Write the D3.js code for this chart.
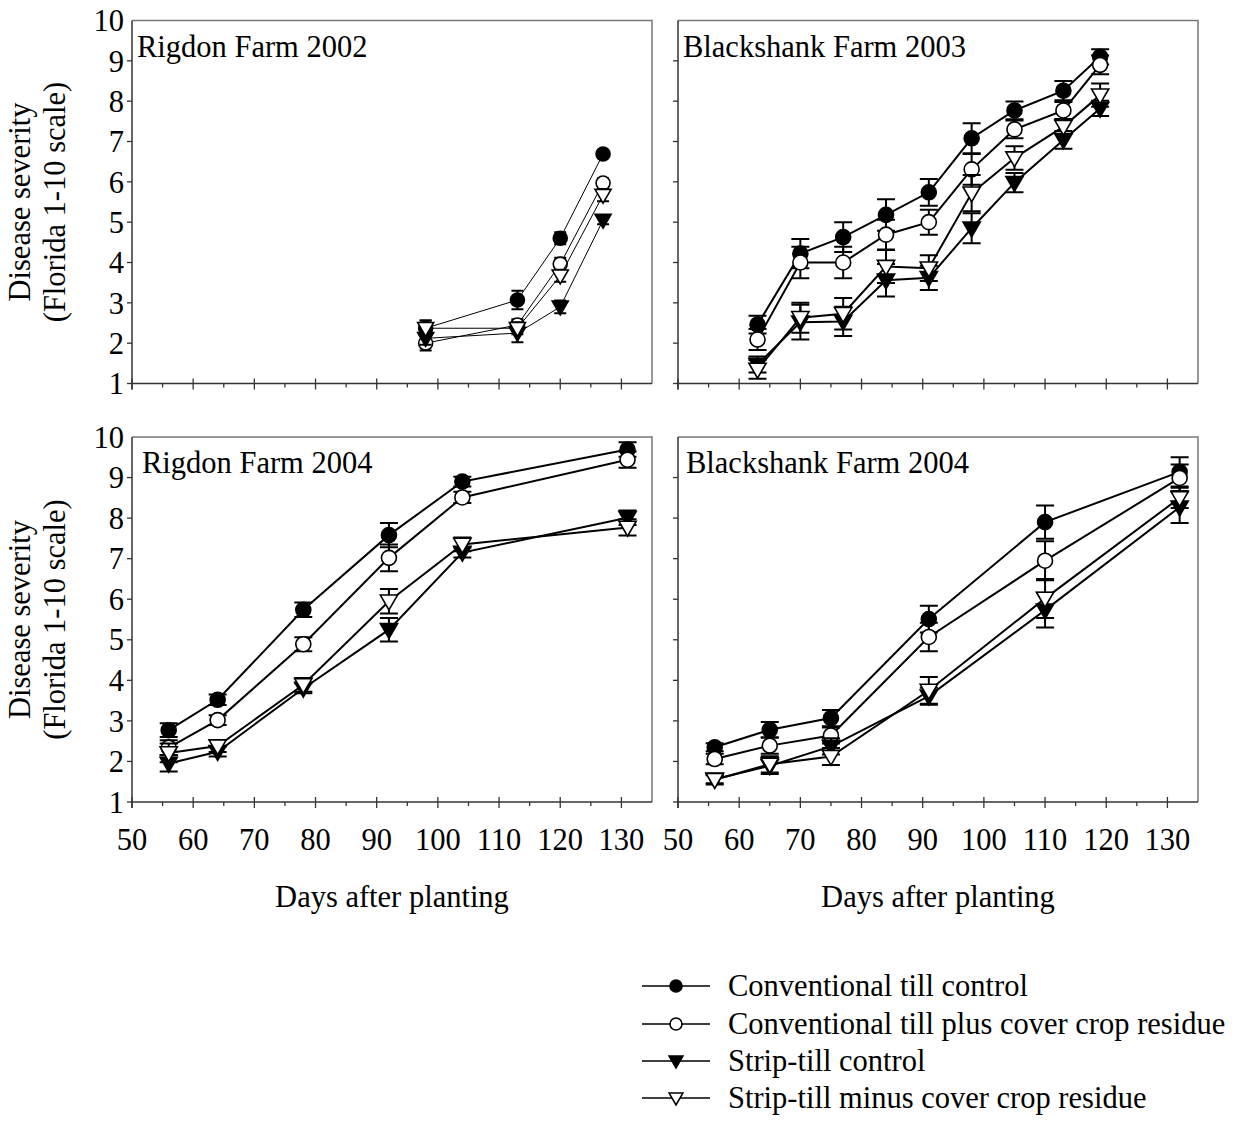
<!DOCTYPE html>
<html>
<head>
<meta charset="utf-8">
<script src="https://cdn.jsdelivr.net/npm/d3@7/dist/d3.min.js"></script>
<style>
  html, body { margin: 0; padding: 0; background: #fff; }
  svg { display: block; }
  text { font-family: "Liberation Serif", "Times New Roman", serif; fill: #000; }
</style>
</head>
<body>
<svg id="chart" width="1238" height="1121"></svg>
<script>
// Treatments (legend order)
const seriesNames = [
  "Conventional till control",
  "Conventional till plus cover crop residue",
  "Strip-till control",
  "Strip-till minus cover crop residue"
];
const seriesSymbols = ["circleFilled", "circleOpen", "triFilled", "triOpen"];

// Ticks
const xTicks = [50, 60, 70, 80, 90, 100, 110, 120, 130];
const yTicks = [1, 2, 3, 4, 5, 6, 7, 8, 9, 10];

// Rigdon Farm 2002
const rig02Days = [98, 113, 120, 127];
const rig02Mean = [
  [2.37, 3.07, 4.60, 6.69],
  [2.00, 2.45, 3.96, 5.97],
  [2.12, 2.25, 2.90, 5.05],
  [2.37, 2.37, 3.67, 5.67]
];
const rig02Err = [
  [0.19, 0.23, 0.15, 0.10],
  [0.18, 0.14, 0.16, 0.12],
  [0.16, 0.23, 0.16, 0.10],
  [0.19, 0.15, 0.15, 0.15]
];

// Blackshank Farm 2003
const bla03Days = [63, 70, 77, 84, 91, 98, 105, 113, 119];
const bla03Mean = [
  [2.46, 4.22, 4.63, 5.18, 5.74, 7.08, 7.77, 8.26, 9.10],
  [2.09, 4.00, 4.00, 4.69, 5.00, 6.31, 7.30, 7.77, 8.90],
  [1.47, 2.52, 2.54, 3.56, 3.62, 4.85, 5.98, 7.04, 7.82],
  [1.35, 2.63, 2.73, 3.90, 3.86, 5.72, 6.59, 7.37, 8.15]
];
const bla03Err = [
  [0.22, 0.36, 0.37, 0.39, 0.33, 0.37, 0.22, 0.24, 0.19],
  [0.26, 0.39, 0.39, 0.37, 0.31, 0.38, 0.22, 0.21, 0.23],
  [0.20, 0.43, 0.36, 0.40, 0.30, 0.37, 0.24, 0.22, 0.19],
  [0.23, 0.37, 0.39, 0.41, 0.32, 0.45, 0.29, 0.18, 0.29]
];

// Rigdon Farm 2004
const rig04Days = [56, 64, 78, 92, 104, 131];
const rig04Mean = [
  [2.77, 3.52, 5.74, 7.58, 8.90, 9.69],
  [2.34, 3.02, 4.89, 7.02, 8.51, 9.44],
  [1.95, 2.24, 3.80, 5.25, 7.15, 8.01],
  [2.21, 2.38, 3.89, 5.95, 7.35, 7.77]
];
const rig04Err = [
  [0.17, 0.13, 0.18, 0.30, 0.12, 0.18],
  [0.18, 0.12, 0.17, 0.33, 0.14, 0.20],
  [0.20, 0.12, 0.12, 0.29, 0.12, 0.18],
  [0.23, 0.15, 0.17, 0.30, 0.17, 0.20]
];

// Blackshank Farm 2004
const bla04Days = [56, 65, 75, 91, 110, 132];
const bla04Mean = [
  [2.35, 2.78, 3.07, 5.51, 7.90, 9.14],
  [2.06, 2.39, 2.64, 5.07, 6.95, 8.99],
  [1.56, 1.89, 2.37, 3.61, 5.73, 8.27],
  [1.55, 1.93, 2.12, 3.75, 6.02, 8.50]
];
const bla04Err = [
  [0.10, 0.19, 0.20, 0.33, 0.41, 0.36],
  [0.13, 0.20, 0.20, 0.35, 0.48, 0.33],
  [0.10, 0.20, 0.20, 0.21, 0.43, 0.39],
  [0.12, 0.20, 0.21, 0.33, 0.48, 0.25]
];

const panelTitles = ["Rigdon Farm 2002", "Blackshank Farm 2003", "Rigdon Farm 2004", "Blackshank Farm 2004"];
const yTitle = ["Disease severity", "(Florida 1-10 scale)"];
const xTitle = "Days after planting";

const panels = [
  { title: panelTitles[0], days: rig02Days, mean: rig02Mean, err: rig02Err,
    x0: 132, x1: 652, y0: 20.5, y1: 383.5, left: true, bottom: false, thin: true, tx: 5 },
  { title: panelTitles[1], days: bla03Days, mean: bla03Mean, err: bla03Err,
    x0: 678, x1: 1198, y0: 20.5, y1: 383.5, left: false, bottom: false, thin: false, tx: 5 },
  { title: panelTitles[2], days: rig04Days, mean: rig04Mean, err: rig04Err,
    x0: 132, x1: 652, y0: 437, y1: 802, left: true, bottom: true, thin: false, tx: 10 },
  { title: panelTitles[3], days: bla04Days, mean: bla04Mean, err: bla04Err,
    x0: 678, x1: 1198, y0: 437, y1: 802, left: false, bottom: true, thin: false, tx: 8 }
];

const svg = d3.select("#chart");
const FONT = 30.5;

// Marker drawing helper
function drawMarker(g, kind, x, y, s) {
  const filled = kind.endsWith("Filled");
  const fill = filled ? "#000" : "#fff";
  if (kind.startsWith("circle")) {
    g.append("circle").attr("cx", x).attr("cy", y).attr("r", s)
      .attr("fill", fill).attr("stroke", "#000").attr("stroke-width", 1.6);
  } else {
    const h = s * 1.1, w = s * 1.15;
    g.append("path")
      .attr("d", `M${x - w},${y - h * 0.75}L${x + w},${y - h * 0.75}L${x},${y + h * 1.05}Z`)
      .attr("fill", fill).attr("stroke", "#000").attr("stroke-width", 1.6)
      .attr("stroke-linejoin", "miter");
  }
}

panels.forEach(p => {
  const x = d3.scaleLinear().domain([50, 135]).range([p.x0, p.x1]);
  const y = d3.scaleLinear().domain([1, 10]).range([p.y1, p.y0]);
  const g = svg.append("g");

  // frame (top and right)
  g.append("path")
    .attr("d", `M${p.x0},${p.y0}H${p.x1}V${p.y1}`)
    .attr("fill", "none").attr("stroke", "#777").attr("stroke-width", 1.5);

  // x axis: major ticks cross the axis line, minor ticks point down
  const xa = g.append("g").attr("transform", `translate(0,${p.y1})`);
  xa.append("line").attr("x1", p.x0 - 1).attr("x2", p.x1).attr("y1", 0).attr("y2", 0)
    .attr("stroke", "#333").attr("stroke-width", 1.5);
  xa.selectAll(".maj").data(xTicks).join("line")
    .attr("x1", d => x(d)).attr("x2", d => x(d)).attr("y1", -5).attr("y2", 6)
    .attr("stroke", "#333").attr("stroke-width", 1.3);
  xa.selectAll(".min").data(d3.range(55, 135, 10)).join("line")
    .attr("x1", d => x(d)).attr("x2", d => x(d)).attr("y1", 0).attr("y2", 4)
    .attr("stroke", "#333").attr("stroke-width", 1.3);
  if (p.bottom) {
    xa.selectAll(".lab").data(xTicks).join("text")
      .attr("x", d => x(d)).attr("y", 48)
      .attr("text-anchor", "middle").attr("font-size", FONT)
      .text(d => d);
    g.append("text").attr("x", (p.x0 + p.x1) / 2).attr("y", 907)
      .attr("text-anchor", "middle").attr("font-size", FONT).text(xTitle);
  }

  // y axis with outward ticks
  const ya = g.append("g").attr("transform", `translate(${p.x0},0)`);
  ya.append("line").attr("x1", 0).attr("x2", 0).attr("y1", p.y0).attr("y2", p.y1 + 6)
    .attr("stroke", "#333").attr("stroke-width", 1.5);
  ya.selectAll(".tk").data(yTicks.slice(0, -1)).join("line")
    .attr("x1", -5).attr("x2", 0).attr("y1", d => y(d)).attr("y2", d => y(d))
    .attr("stroke", "#333").attr("stroke-width", 1.3);
  if (p.left) {
    ya.selectAll(".lab").data(yTicks).join("text")
      .attr("x", -8).attr("y", d => y(d)).attr("dy", "0.35em")
      .attr("text-anchor", "end").attr("font-size", FONT).text(d => d);
    const cy = (p.y0 + p.y1) / 2;
    g.append("text").attr("transform", `translate(30,${cy}) rotate(-90)`)
      .attr("text-anchor", "middle").attr("font-size", FONT).text(yTitle[0]);
    g.append("text").attr("transform", `translate(65,${cy}) rotate(-90)`)
      .attr("text-anchor", "middle").attr("font-size", FONT).text(yTitle[1]);
  }

  // panel title
  g.append("text").attr("x", p.x0 + p.tx).attr("y", p.y0 + 36)
    .attr("font-size", FONT).text(p.title);

  const capW = p.thin ? 6 : 9;
  const lineW = p.thin ? 1 : 2;
  const r = p.thin ? 7 : 7.5;
  const line = d3.line().x(d => x(d[0])).y(d => y(d[1]));

  p.mean.forEach((vals, si) => {
    const pts = p.days.map((d, i) => [d, vals[i], p.err[si][i]]);
    const sg = g.append("g");
    // error bars
    pts.forEach(([d, v, e]) => {
      const cx = x(d), t = y(v + e), b = y(v - e);
      sg.append("path")
        .attr("d", `M${cx},${t}V${b}M${cx - capW},${t}H${cx + capW}M${cx - capW},${b}H${cx + capW}`)
        .attr("fill", "none").attr("stroke", "#000").attr("stroke-width", 2);
    });
    sg.append("path").datum(pts).attr("d", line)
      .attr("fill", "none").attr("stroke", "#000").attr("stroke-width", lineW);
    pts.forEach(([d, v]) => drawMarker(sg, seriesSymbols[si], x(d), y(v), r));
  });
});

// legend
const legendY = [986, 1024, 1061, 1098];
const lg = svg.append("g");
seriesNames.forEach((name, i) => {
  const yy = legendY[i];
  lg.append("line").attr("x1", 642).attr("x2", 710).attr("y1", yy).attr("y2", yy)
    .attr("stroke", "#000").attr("stroke-width", 1.3);
  drawMarker(lg, seriesSymbols[i], 676, yy, 6);
  lg.append("text").attr("x", 728).attr("y", yy).attr("dy", "0.33em")
    .attr("font-size", FONT).text(name);
});
</script>
</body>
</html>
